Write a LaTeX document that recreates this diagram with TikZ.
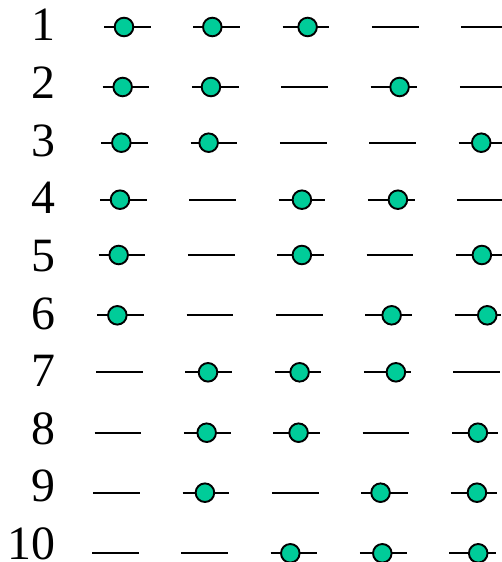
\documentclass[tikz,border=0pt]{standalone}
\usepackage{fontspec}
\setmainfont{Liberation Serif}
\definecolor{beadgreen}{RGB}{0,204,153}
\begin{document}
\begin{tikzpicture}[x=1bp,y=-1bp,
  rail/.style={line width=1.9bp,black},
  bead/.style={circle,draw=black,line width=1.9bp,fill=beadgreen,minimum size=18.6bp,inner sep=0pt},
  lab/.style={anchor=base east,inner sep=0pt,font=\fontsize{48}{58}\selectfont}]
\useasboundingbox (0,0) rectangle (502,562);
\clip (0,0) rectangle (502,562);
\foreach \y/\pa/\pb/\pc/\pd/\pe [count=\r from 0] in {
  27/20/19/25/0/0,
  87/20/19/0/29/0,
  142.7/20/18/0/0/22.7,
  199.7/20/0/23.3/30/0,
  255/20/0/24.6/0/26,
  315.3/20/0/0/26.4/32.7,
  372.3/0/22.7/25/32/0,
  432.7/0/22.7/25.3/0/26,
  492.7/0/22.3/0/19.3/26.4,
  553.3/0/0/19.7/22.4/29}{
  \foreach \o [count=\k from 0] in {\pa,\pb,\pc,\pd,\pe}{
    \pgfmathsetmacro\xs{104-1.333*\r+89.3*\k}
    \pgfmathsetmacro\xe{\xs+46.6}
    \coordinate (s-\r-\k) at (\xs,\y);
    \coordinate (e-\r-\k) at (\xe,\y);
    \draw[rail] (s-\r-\k) -- (e-\r-\k);
    \ifdim\o pt>0pt
      \pgfmathsetmacro\xb{\xs+\o}
      \node[bead] (b-\r-\k) at (\xb,\y) {};
    \fi
  }
}
\foreach \i in {1,...,10}{
  \node[lab] (l-\i) at (56,{26+57.6*(\i-1)+15}) {\i};
}
\end{tikzpicture}
\end{document}
